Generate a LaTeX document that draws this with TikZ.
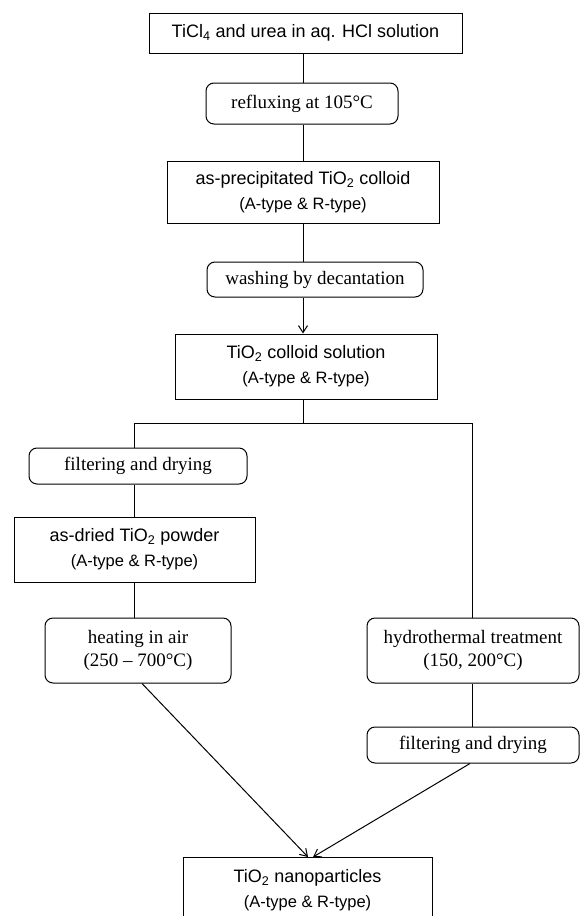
\documentclass[tikz,border=0pt]{standalone}
\usepackage{fontspec}
\setmainfont{Liberation Serif}
\setsansfont{Liberation Sans}
\usepackage{tikz}
\usetikzlibrary{arrows.meta}
\tikzset{>={Straight Barb[length=7pt,width=9pt]}}
\tikzset{
	matbox/.style={draw, rectangle, line width=1pt, inner sep=0pt, align=center,
		font=\sffamily\fontsize{18}{25}\selectfont},
	stepbox/.style={draw, rectangle, rounded corners=8pt, line width=1pt, inner sep=0pt, align=center,
		font=\fontsize{19}{23}\selectfont},
	link/.style={line width=1pt}
}
\newcommand{\ART}{{\fontsize{16.5}{25}\selectfont (A-type \& R-type)}}

\begin{document}
\begin{tikzpicture}[x=1pt,y=-1pt]
	\useasboundingbox (0,0) rectangle (580,916);
	% main column
	\node[matbox, minimum width=313pt, minimum height=40pt] (src) at (305.5,33) {TiCl\textsubscript{4} and urea in aq. HCl solution};
	\node[stepbox, minimum width=192pt, minimum height=41pt] (reflux) at (302,103.5) {refluxing at 105°C};
	\node[matbox, minimum width=272pt, minimum height=62pt] (precip) at (303,192) {as-precipitated TiO\textsubscript{2} colloid\\\ART};
	\node[stepbox, minimum width=216pt, minimum height=35pt] (wash) at (315,279.5) {washing by decantation};
	\node[matbox, minimum width=262pt, minimum height=65pt] (colsol) at (306,366.5) {TiO\textsubscript{2} colloid solution\\\ART};
	% left branch
	\node[stepbox, minimum width=218pt, minimum height=36pt] (filtL) at (138,466) {filtering and drying};
	\node[matbox, minimum width=241pt, minimum height=65pt] (dried) at (134.5,549.5) {as-dried TiO\textsubscript{2} powder\\\ART};
	\node[stepbox, minimum width=186pt, minimum height=65pt] (heat) at (138,650.5) {heating in air\\(250 -- 700°C)};
	% right branch
	\node[stepbox, minimum width=212pt, minimum height=65pt] (hydro) at (473,650.5) {hydrothermal treatment\\(150, 200°C)};
	\node[stepbox, minimum width=212pt, minimum height=36pt] (filtR) at (473,745) {filtering and drying};
	% product
	\node[matbox, minimum width=249pt, minimum height=66pt, anchor=north] (nano) at (307.5,857) {TiO\textsubscript{2} nanoparticles\\\ART};

	\coordinate (spine) at (303,0);
	\coordinate (split) at (303,423);
	\coordinate (lbr) at (134,423);
	\coordinate (rbr) at (472,423);

	\draw[link] (src.south -| spine) -- (reflux.north -| spine);
	\draw[link] (reflux.south -| spine) -- (precip.north -| spine);
	\draw[link] (precip.south -| spine) -- (wash.north -| spine);
	\draw[link,->] (wash.south -| spine) -- (colsol.north -| spine);
	\draw[link] (colsol.south -| spine) -- (split);
	\draw[link] (filtL.north -| lbr) -- (lbr) -- (rbr) -- (hydro.north -| rbr);
	\draw[link] (filtL.south -| lbr) -- (dried.north -| lbr);
	\draw[link] (dried.south -| lbr) -- (heat.north -| lbr);
	\draw[link] (hydro.south -| rbr) -- (filtR.north -| rbr);
	\draw[link,->] ([xshift=4pt]heat.south) -- ([xshift=0.5pt]nano.north);
	\draw[link,->] ([xshift=-3pt]filtR.south) -- ([xshift=5.5pt]nano.north);
\end{tikzpicture}
\end{document}
